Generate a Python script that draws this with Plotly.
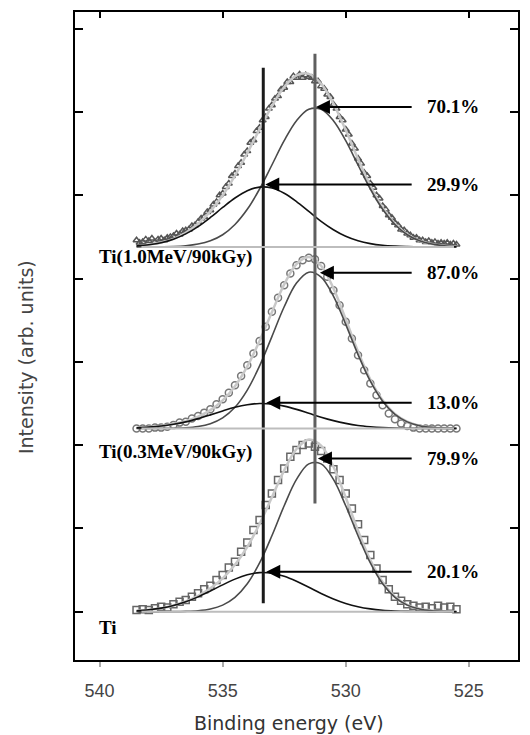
import plotly.graph_objects as go

# ---------------- data (binding energy in eV, intensity in arb. units) ----------------
E_DATA = [round(538.5 - 0.25 * i, 3) for i in range(53)]
E_DENSE = [round(538.5 - 0.125 * i, 3) for i in range(105)]
E_FIT = [round(538.5 - 0.5 * i, 2) for i in range(27)]

# Ti (bottom spectrum) - measured points
TI_DATA = [0.02, 0.03, 0.02, 0.04, 0.06, 0.05, 0.09, 0.12, 0.14, 0.18,
           0.22, 0.27, 0.31, 0.38, 0.44, 0.53, 0.60, 0.72, 0.83, 0.98,
           1.10, 1.28, 1.42, 1.58, 1.72, 1.86, 1.94, 2.00, 2.02, 1.98,
           1.93, 1.84, 1.71, 1.58, 1.42, 1.24, 1.05, 0.86, 0.68, 0.52,
           0.38, 0.27, 0.18, 0.13, 0.09, 0.07, 0.05, 0.06, 0.04, 0.07,
           0.05, 0.06, 0.03]
TI_FIT = [0.012, 0.024, 0.043, 0.075, 0.123, 0.190, 0.281, 0.401, 0.563, 0.778,
          1.054, 1.374, 1.697, 1.953, 2.068, 1.994, 1.741, 1.371, 0.972, 0.619,
          0.353, 0.181, 0.083, 0.035, 0.013, 0.004, 0.001]
TI_P1 = [0.000, 0.000, 0.000, 0.001, 0.004, 0.012, 0.033, 0.079, 0.172, 0.335,
         0.585, 0.912, 1.272, 1.588, 1.775, 1.775, 1.588, 1.272, 0.912, 0.585,
         0.335, 0.172, 0.079, 0.033, 0.012, 0.004, 0.001]
TI_P2 = [0.012, 0.024, 0.043, 0.074, 0.119, 0.178, 0.248, 0.322, 0.391, 0.443,
         0.469, 0.462, 0.425, 0.365, 0.293, 0.219, 0.153, 0.099, 0.060, 0.034,
         0.018, 0.009, 0.004, 0.002, 0.001, 0.000, 0.000]

# Ti(0.3MeV/90kGy) (middle spectrum)
T03_DATA = [0.00, 0.00, 0.00, 0.01, 0.01, 0.02, 0.04, 0.07, 0.08, 0.12,
            0.15, 0.19, 0.23, 0.29, 0.35, 0.43, 0.52, 0.63, 0.76, 0.90,
            1.05, 1.22, 1.40, 1.57, 1.72, 1.86, 1.96, 2.02, 2.05, 2.03,
            1.95, 1.82, 1.66, 1.48, 1.28, 1.08, 0.88, 0.70, 0.54, 0.40,
            0.28, 0.18, 0.11, 0.06, 0.03, 0.01, 0.00, 0.00, 0.00, 0.00,
            0.00, 0.00, 0.00]
T03_FIT = [0.008, 0.016, 0.030, 0.053, 0.087, 0.141, 0.220, 0.337, 0.508, 0.746,
           1.051, 1.396, 1.729, 1.974, 2.058, 1.953, 1.683, 1.311, 0.923, 0.588,
           0.338, 0.174, 0.081, 0.034, 0.013, 0.004, 0.001]
T03_P1 = [0.000, 0.000, 0.001, 0.003, 0.008, 0.023, 0.057, 0.127, 0.254, 0.461,
          0.751, 1.103, 1.461, 1.745, 1.876, 1.818, 1.589, 1.250, 0.887, 0.567,
          0.327, 0.169, 0.079, 0.033, 0.013, 0.004, 0.001]
T03_P2 = [0.008, 0.016, 0.029, 0.050, 0.079, 0.118, 0.163, 0.210, 0.254, 0.285,
          0.300, 0.293, 0.268, 0.229, 0.182, 0.135, 0.094, 0.061, 0.036, 0.021,
          0.011, 0.005, 0.002, 0.001, 0.000, 0.000, 0.000]

# Ti(1.0MeV/90kGy) (top spectrum, finer sampling)
T10_DATA = [0.08, 0.05, 0.06, 0.09, 0.07, 0.10, 0.06, 0.09, 0.10, 0.08,
            0.11, 0.12, 0.13, 0.16, 0.15, 0.19, 0.20, 0.21, 0.25, 0.26,
            0.30, 0.34, 0.36, 0.42, 0.44, 0.51, 0.54, 0.62, 0.64, 0.72,
            0.76, 0.85, 0.88, 0.97, 1.01, 1.11, 1.15, 1.25, 1.28, 1.39,
            1.43, 1.52, 1.56, 1.66, 1.70, 1.78, 1.81, 1.89, 1.91, 1.98,
            1.98, 2.05, 2.03, 2.07, 2.03, 2.06, 2.04, 2.03, 1.99, 1.99,
            1.93, 1.90, 1.83, 1.80, 1.71, 1.66, 1.56, 1.52, 1.41, 1.35,
            1.24, 1.18, 1.06, 1.00, 0.89, 0.85, 0.76, 0.71, 0.62, 0.58,
            0.49, 0.45, 0.38, 0.35, 0.29, 0.26, 0.21, 0.20, 0.16, 0.14,
            0.11, 0.11, 0.08, 0.08, 0.06, 0.07, 0.05, 0.06, 0.04, 0.05,
            0.04, 0.05, 0.03, 0.04, 0.03]
T10_FIT = [0.012, 0.027, 0.052, 0.097, 0.170, 0.278, 0.426, 0.619, 0.856, 1.126,
           1.413, 1.690, 1.919, 2.059, 2.077, 1.959, 1.721, 1.402, 1.056, 0.734,
           0.470, 0.278, 0.150, 0.074, 0.035, 0.014, 0.005]
T10_P1 = [0.000, 0.001, 0.002, 0.005, 0.014, 0.034, 0.073, 0.146, 0.269, 0.451,
          0.695, 0.983, 1.275, 1.515, 1.652, 1.652, 1.515, 1.275, 0.983, 0.695,
          0.451, 0.269, 0.146, 0.073, 0.034, 0.014, 0.005]
T10_P2 = [0.012, 0.026, 0.050, 0.092, 0.156, 0.244, 0.353, 0.473, 0.587, 0.675,
          0.718, 0.707, 0.644, 0.544, 0.425, 0.307, 0.206, 0.127, 0.073, 0.039,
          0.019, 0.009, 0.004, 0.001, 0.001, 0.000, 0.000]

SAMPLE_LABELS = ["Ti", "Ti(0.3MeV/90kGy)", "Ti(1.0MeV/90kGy)"]

# peak positions (eV) and vertical guide extents
PEAK_OH = 533.35
PEAK_OX = 531.25
PEAK_OH_SPAN = [0.1, 6.53]
PEAK_OX_SPAN = [1.30, 6.70]

# component percentages and where their arrows point
PCT_LABELS = ["70.1%", "29.9%", "87.0%", "13.0%", "79.9%", "20.1%"]
PCT_Y = [6.06, 5.13, 4.07, 2.51, 1.84, 0.48]
PCT_TIP_X = [531.21, 533.27, 531.05, 533.23, 531.13, 533.23]
PCT_TAIL_X = 527.26
PCT_TEXT_X = 526.77

X_TICKS = [540, 535, 530, 525]
Y_TICKS = [0, 1, 2, 3, 4, 5, 6, 7]

# ---------------- layout constants ----------------
OFFSETS = [0.0, 2.2, 4.38]
LABEL_Y = [-0.19, 1.92, 4.26]
LABEL_X = 540.12
X_RANGE = [541.0, 523.0]
Y_RANGE = [-0.58, 7.2]

spectra = [
    (E_DATA, TI_DATA, TI_FIT, TI_P1, TI_P2, "square-open", "#666666", 7),
    (E_DATA, T03_DATA, T03_FIT, T03_P1, T03_P2, "circle-open", "#777777", 7),
    (E_DENSE, T10_DATA, T10_FIT, T10_P1, T10_P2, "triangle-up-open", "#555555", 6),
]

fig = go.Figure()

for (ex, data, fit, p1, p2, sym, mcol, msize), off in zip(spectra, OFFSETS):
    # baseline
    fig.add_trace(go.Scatter(x=[ex[0] - 0.2, ex[-1] + 0.1], y=[off, off],
                             mode="lines", line=dict(color="#bdbdbd", width=2),
                             xaxis="x2", hoverinfo="skip"))
    # measured points
    fig.add_trace(go.Scatter(x=ex, y=[v + off for v in data], mode="markers",
                             marker=dict(symbol=sym, size=msize, color=mcol,
                                         line=dict(width=1.5, color=mcol)),
                             hoverinfo="skip"))
    # envelope
    fig.add_trace(go.Scatter(x=E_FIT, y=[v + off for v in fit], mode="lines",
                             line=dict(color="#c8c8c8", width=2.5, shape="spline"),
                             hoverinfo="skip"))
    # component 1 (lattice O)
    fig.add_trace(go.Scatter(x=E_FIT, y=[v + off for v in p1], mode="lines",
                             line=dict(color="#4a4a4a", width=1.6, shape="spline"),
                             hoverinfo="skip"))
    # component 2 (OH)
    fig.add_trace(go.Scatter(x=E_FIT, y=[v + off for v in p2], mode="lines",
                             line=dict(color="#111111", width=1.6, shape="spline"),
                             hoverinfo="skip"))

# vertical guides
fig.add_trace(go.Scatter(x=[PEAK_OH, PEAK_OH], y=PEAK_OH_SPAN, mode="lines",
                         line=dict(color="#1a1a1a", width=3), hoverinfo="skip"))
fig.add_trace(go.Scatter(x=[PEAK_OX, PEAK_OX], y=PEAK_OX_SPAN, mode="lines",
                         line=dict(color="#5f5f5f", width=3), hoverinfo="skip"))

annotations = []
for lab, yv, tip in zip(PCT_LABELS, PCT_Y, PCT_TIP_X):
    annotations.append(dict(x=tip, y=yv, ax=PCT_TAIL_X, ay=yv, xref="x", yref="y",
                            axref="x", ayref="y", text="", showarrow=True,
                            arrowhead=2, arrowsize=1.4, arrowwidth=2,
                            arrowcolor="#000000", standoff=0))
    annotations.append(dict(x=PCT_TEXT_X, y=yv, xref="x", yref="y", text="<b>" + lab + "</b>",
                            showarrow=False, xanchor="left", yanchor="middle",
                            font=dict(family="Liberation Serif", size=19, color="#000000")))

for lab, yv in zip(SAMPLE_LABELS, LABEL_Y):
    annotations.append(dict(x=LABEL_X, y=yv, xref="x", yref="y", text="<b>" + lab + "</b>",
                            showarrow=False, xanchor="left", yanchor="middle",
                            font=dict(family="Liberation Serif", size=19, color="#000000")))

annotations.append(dict(x=0.483, y=-0.097, xref="paper", yref="paper",
                        text="Binding energy (eV)", showarrow=False,
                        xanchor="center", yanchor="middle",
                        font=dict(family="DejaVu Sans", size=19, color="#333333")))
annotations.append(dict(x=-0.112, y=0.468, xref="paper", yref="paper",
                        text="Intensity (arb. units)", showarrow=False, textangle=-90,
                        xanchor="center", yanchor="middle",
                        font=dict(family="DejaVu Sans", size=19, color="#444444")))

fig.update_layout(
    width=530, height=735,
    margin=dict(l=75, r=10, t=12, b=75),
    plot_bgcolor="white", paper_bgcolor="white",
    showlegend=False,
    annotations=annotations,
    xaxis=dict(range=X_RANGE, autorange=False, tickvals=X_TICKS,
               ticktext=[str(t) for t in X_TICKS], ticks="outside", ticklen=5,
               tickwidth=2, tickcolor="#aaaaaa", showline=True, linecolor="black",
               linewidth=2, mirror=True, showgrid=False, zeroline=False,
               tickfont=dict(family="Liberation Sans", size=18, color="#444444"),
               ticklabelstandoff=8),
    xaxis2=dict(range=X_RANGE, autorange=False, overlaying="x", side="top",
                tickvals=X_TICKS, ticks="inside", ticklen=6, tickwidth=2,
                tickcolor="black", showticklabels=False, showline=False,
                showgrid=False, zeroline=False),
    yaxis=dict(range=Y_RANGE, autorange=False, tickvals=Y_TICKS, ticks="inside",
               ticklen=8, tickwidth=2, tickcolor="black", showticklabels=False,
               showline=True, linecolor="black", linewidth=2, mirror="ticks",
               showgrid=False, zeroline=False),
)

fig.write_html("out.html", config={"displayModeBar": False},
               post_script="document.body.style.margin='0px';document.body.style.overflow='hidden';")
